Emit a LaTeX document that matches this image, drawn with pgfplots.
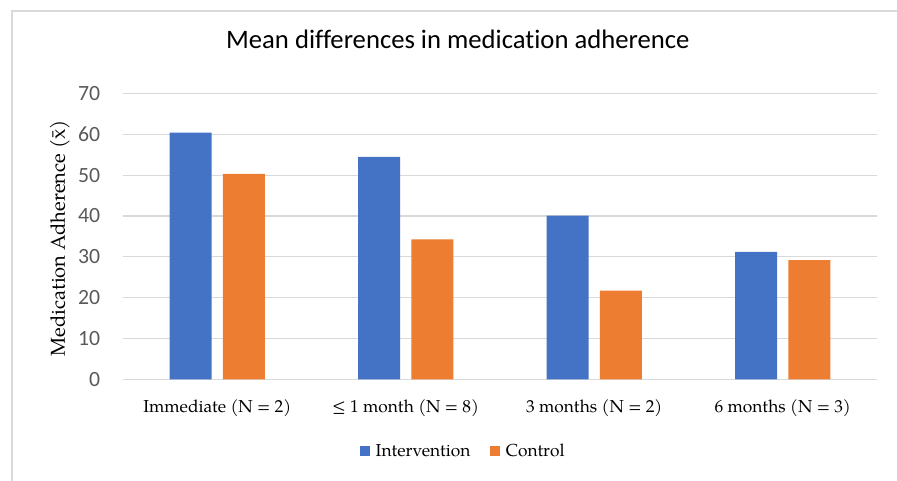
\documentclass[border=0pt]{standalone}
\usepackage{pgfplots}
\pgfplotsset{compat=1.18}
\usepackage{fontspec}
\setmainfont{TeX Gyre Pagella}
\newfontfamily\carlito[Ligatures={NoCommon}]{Carlito}
\definecolor{cblue}{HTML}{4472C4}
\definecolor{corange}{HTML}{ED7D31}
\definecolor{gridc}{HTML}{D9D9D9}
\definecolor{tickc}{HTML}{595959}
\begin{document}
\begin{tikzpicture}
\path[use as bounding box] (0,0) rectangle (672.75pt,360.75pt);
\draw[gridc, line width=1.5pt] (9pt,0) -- (9pt,352.5pt) -- (672.75pt,352.5pt);
\begin{axis}[
  at={(92.25pt,76.275pt)}, anchor=south west,
  scale only axis, width=565.5pt, height=214.35pt,
  ybar, bar width=31.5pt, bar shift=0pt,
  xmin=-0.5, xmax=3.5, ymin=0, ymax=70,
  xtick={0,1,2,3},
  xticklabels={Immediate (N = 2),{≤ 1 month (N = 8)},3 months (N = 2),6 months (N = 3)},
  ytick={0,10,...,70},
  /pgf/number format/assume math mode=true,
  ymajorgrids, grid style={gridc, line width=0.9pt},
  axis x line*=bottom, axis y line*=left,
  x axis line style={gridc, line width=0.9pt},
  y axis line style={draw=none},
  major tick length=0pt,
  xticklabel style={font=\fontsize{13}{16}\selectfont, anchor=center, yshift=-21.5pt},
  yticklabel style={font=\carlito\fontsize{16.3}{19}\selectfont, text=tickc, anchor=east, inner sep=0pt, xshift=-17pt},
  ylabel={Medication Adherence (\={x})},
  ylabel style={font=\fontsize{15.1}{18}\selectfont, at={(axis description cs:-0.0836,0.494)}, anchor=center, rotate=0},
  title={Mean differences in medication adherence},
  title style={font=\carlito\fontsize{20}{24}\selectfont, at={(axis description cs:0.444,1.163)}, anchor=center},
  legend style={draw=none, at={(axis description cs:0.452,-0.251)}, anchor=center,
    font=\fontsize{13}{16}\selectfont, legend columns=2,
    /tikz/every odd column/.append style={column sep=2.5pt},
    /tikz/every even column/.append style={column sep=13pt}},
  legend image code/.code={\fill[#1] (0pt,-3.5pt) rectangle (7pt,3.5pt);},
  enlarge x limits=false,
]
\addplot[fill=cblue, draw=none, bar shift=-19.9pt] coordinates {(0,60.4) (1,54.5) (2,40.1) (3,31.2)};
\addplot[fill=corange, draw=none, bar shift=19.9pt] coordinates {(0,50.3) (1,34.3) (2,21.7) (3,29.2)};
\legend{Intervention, Control}
\end{axis}
\end{tikzpicture}
\end{document}
